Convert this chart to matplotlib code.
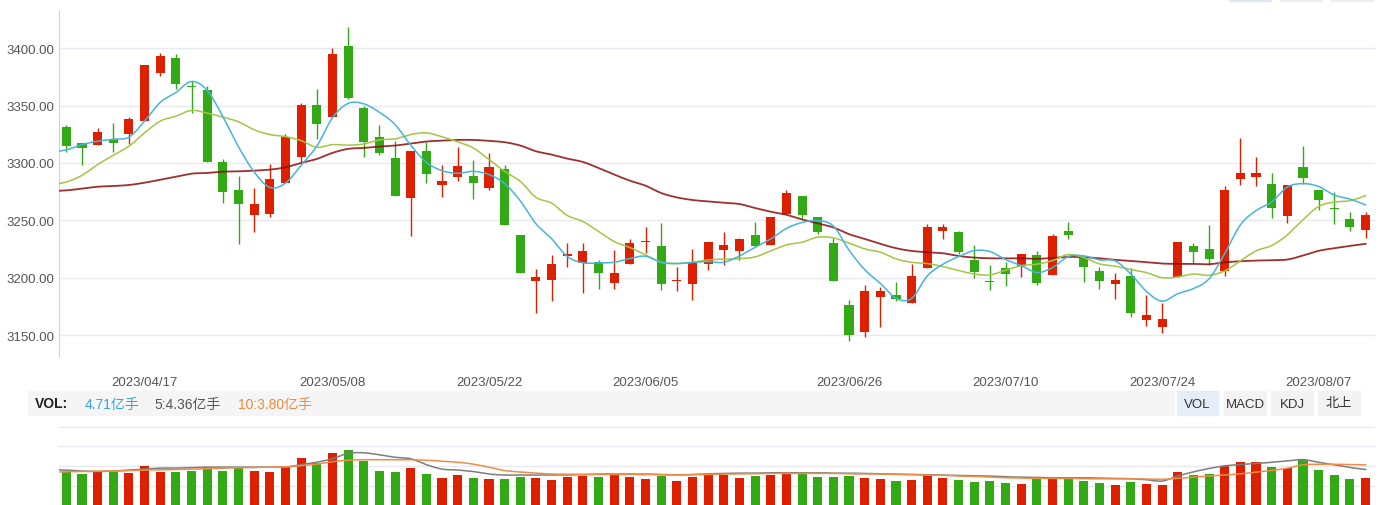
import numpy as np
import pandas as pd
from matplotlib import pyplot as plt
from matplotlib.patches import Rectangle

plt.rcParams['font.family'] = ['Liberation Sans', 'Noto Sans CJK SC', 'DejaVu Sans']

# trading days (SSE calendar, Labour day and Dragon boat holidays removed)
days = pd.bdate_range('2023-04-10', '2023-08-10')
holidays = pd.to_datetime(['2023-05-01', '2023-05-02', '2023-05-03', '2023-06-22', '2023-06-23'])
dates = [d.strftime('%Y/%m/%d') for d in days if d not in holidays]
tick_dates = ['2023/04/17', '2023/05/08', '2023/05/22', '2023/06/05',
              '2023/06/26', '2023/07/10', '2023/07/24', '2023/08/07']

# daily OHLC
opens = [3331.2, 3317.2, 3315.5, 3320.7, 3325.4, 3336.7, 3378.7, 3391.5, 3366.8, 3363.6,
         3300.6, 3276.1, 3254.5, 3255.4, 3282.5, 3305.3, 3350.4, 3340.2, 3402.0, 3347.8,
         3323.0, 3304.1, 3269.4, 3310.2, 3280.8, 3287.8, 3288.4, 3278.2, 3294.5, 3237.6,
         3196.8, 3197.7, 3218.7, 3213.1, 3214.0, 3195.1, 3211.7, 3230.9, 3228.0, 3197.4,
         3194.2, 3211.7, 3224.5, 3223.1, 3237.6, 3228.9, 3255.4, 3270.9, 3252.5, 3229.8,
         3176.4, 3152.2, 3182.8, 3185.2, 3177.6, 3208.2, 3240.6, 3239.4, 3215.8, 3197.4,
         3208.8, 3209.9, 3220.1, 3202.1, 3240.3, 3218.4, 3206.2, 3194.2, 3201.8, 3162.7,
         3156.6, 3200.3, 3228.0, 3225.4, 3205.6, 3286.0, 3287.8, 3281.4, 3253.7, 3296.2,
         3276.1, 3260.4, 3250.8, 3241.4]
closes = [3314.6, 3312.8, 3326.8, 3317.5, 3338.2, 3385.4, 3393.3, 3369.1, 3366.3, 3300.9,
          3274.7, 3264.2, 3263.9, 3285.7, 3323.0, 3350.4, 3334.1, 3395.0, 3356.9, 3318.4,
          3308.8, 3271.2, 3310.2, 3290.4, 3284.0, 3297.1, 3282.5, 3296.2, 3245.8, 3203.8,
          3200.9, 3212.3, 3220.7, 3223.6, 3203.8, 3204.4, 3229.8, 3232.4, 3194.2, 3197.8,
          3213.1, 3231.5, 3228.9, 3233.3, 3228.0, 3252.5, 3273.5, 3254.5, 3239.7, 3196.8,
          3149.6, 3188.7, 3188.7, 3181.1, 3201.8, 3243.8, 3244.6, 3222.2, 3204.7, 3196.0,
          3202.9, 3221.0, 3195.1, 3235.9, 3237.1, 3209.1, 3196.8, 3198.3, 3168.8, 3167.7,
          3164.2, 3231.5, 3222.2, 3216.1, 3276.1, 3291.0, 3291.0, 3260.7, 3280.5, 3286.9,
          3267.7, 3259.8, 3244.0, 3254.3]
highs = [3333.0, 3317.3, 3330.3, 3334.7, 3339.7, 3385.4, 3395.9, 3395.0, 3371.1, 3366.8,
         3303.2, 3288.4, 3277.9, 3298.9, 3325.1, 3352.2, 3364.4, 3400.3, 3418.7, 3349.6,
         3333.0, 3319.0, 3310.2, 3318.4, 3298.0, 3313.7, 3302.3, 3308.5, 3298.0, 3237.6,
         3207.3, 3220.1, 3230.6, 3230.6, 3215.5, 3224.5, 3233.3, 3243.8, 3247.3, 3209.7,
         3225.4, 3231.5, 3239.4, 3235.0, 3248.1, 3252.5, 3276.1, 3270.9, 3252.5, 3235.0,
         3180.8, 3193.9, 3192.2, 3196.5, 3212.3, 3246.4, 3246.4, 3241.1, 3228.9, 3211.4,
         3214.0, 3221.0, 3223.6, 3238.5, 3248.1, 3218.4, 3209.7, 3204.4, 3208.8, 3185.2,
         3178.2, 3231.5, 3229.8, 3245.5, 3279.6, 3321.6, 3305.0, 3291.0, 3280.5, 3314.6,
         3276.1, 3274.4, 3256.9, 3256.9]
lows = [3309.3, 3298.0, 3315.5, 3309.3, 3316.6, 3336.7, 3376.1, 3364.7, 3343.7, 3300.9,
        3265.0, 3229.2, 3239.7, 3252.8, 3282.5, 3301.2, 3321.0, 3340.2, 3355.7, 3305.3,
        3307.0, 3271.2, 3236.2, 3282.5, 3270.3, 3284.3, 3268.5, 3276.4, 3245.8, 3203.8,
        3168.8, 3179.3, 3209.1, 3186.3, 3189.8, 3189.8, 3211.7, 3221.3, 3188.9, 3188.1,
        3180.2, 3206.4, 3211.1, 3215.2, 3226.3, 3228.9, 3255.4, 3251.9, 3237.9, 3196.8,
        3144.4, 3147.9, 3156.6, 3179.3, 3177.6, 3208.2, 3233.3, 3220.4, 3199.4, 3188.9,
        3192.5, 3200.3, 3193.3, 3202.1, 3233.3, 3196.0, 3189.8, 3181.1, 3165.3, 3157.5,
        3151.4, 3200.3, 3212.6, 3210.8, 3201.2, 3280.8, 3279.9, 3251.9, 3247.5, 3281.7,
        3258.9, 3246.7, 3240.6, 3234.4]

# moving average lines, first value is the day before 2023/04/10
ma5 = [3309.3,
       3311.4, 3316.0, 3319.0, 3320.7, 3322.5, 3336.5, 3352.8, 3361.5, 3371.1, 3363.3,
       3340.4, 3314.1, 3292.1, 3278.7, 3282.5, 3298.0, 3314.6, 3339.4, 3351.9, 3351.6,
       3344.2, 3333.5, 3315.5, 3300.5, 3293.3, 3291.0, 3292.7, 3289.9, 3282.0, 3267.0,
       3247.0, 3234.0, 3218.5, 3213.0, 3212.9, 3213.4, 3216.7, 3218.7, 3213.4, 3212.3,
       3213.4, 3214.0, 3213.4, 3218.9, 3226.5, 3233.8, 3242.9, 3248.1, 3249.7, 3245.0,
       3224.0, 3207.0, 3195.0, 3182.0, 3181.9, 3201.5, 3211.7, 3218.4, 3223.6, 3222.8,
       3215.8, 3210.5, 3204.5, 3208.8, 3218.4, 3219.0, 3215.5, 3214.6, 3203.2, 3188.0,
       3179.5, 3186.0, 3190.5, 3199.0, 3221.0, 3246.0, 3258.5, 3266.0, 3279.0, 3282.0,
       3279.5, 3272.0, 3268.5, 3263.5]
ma10 = [3281.1,
        3283.4, 3289.2, 3298.6, 3306.7, 3314.6, 3326.3, 3336.5, 3340.8, 3345.8, 3343.4,
        3340.0, 3335.9, 3328.9, 3324.8, 3323.0, 3319.5, 3313.7, 3316.0, 3315.5, 3316.6,
        3320.1, 3321.0, 3324.8, 3326.3, 3322.8, 3318.4, 3313.1, 3302.9, 3292.7, 3284.0,
        3270.0, 3265.0, 3254.2, 3249.0, 3240.3, 3231.5, 3226.3, 3219.9, 3213.4, 3212.3,
        3213.4, 3215.5, 3216.1, 3216.6, 3218.1, 3223.4, 3228.6, 3230.9, 3235.3, 3234.7,
        3230.1, 3225.1, 3222.2, 3216.4, 3213.4, 3212.3, 3209.7, 3206.2, 3203.2, 3202.4,
        3206.5, 3210.5, 3211.7, 3214.9, 3220.1, 3217.5, 3212.0, 3210.0, 3207.1, 3204.4,
        3200.0, 3200.6, 3203.2, 3202.1, 3205.9, 3214.6, 3223.4, 3228.0, 3237.3, 3250.5,
        3262.1, 3265.9, 3267.1, 3271.5]
ma30 = [3275.3,
        3276.1, 3277.6, 3279.3, 3279.9, 3280.8, 3282.8, 3285.4, 3288.1, 3290.7, 3291.3,
        3292.4, 3292.7, 3293.3, 3294.2, 3296.2, 3300.0, 3303.5, 3308.8, 3312.3, 3313.1,
        3314.3, 3315.2, 3316.9, 3318.7, 3319.5, 3320.1, 3320.1, 3319.3, 3318.1, 3315.2,
        3310.2, 3307.3, 3303.8, 3300.9, 3295.6, 3289.8, 3284.6, 3280.2, 3273.8, 3270.0,
        3267.7, 3266.5, 3265.3, 3264.2, 3260.7, 3257.5, 3254.8, 3250.8, 3247.3, 3243.8,
        3237.9, 3233.8, 3229.5, 3225.7, 3223.3, 3222.2, 3221.3, 3218.9, 3217.5, 3216.9,
        3216.9, 3216.9, 3216.4, 3217.2, 3218.1, 3217.8, 3216.9, 3215.5, 3214.6, 3213.4,
        3212.3, 3212.0, 3212.0, 3211.7, 3213.4, 3214.3, 3214.9, 3215.2, 3215.8, 3219.3,
        3223.4, 3225.7, 3227.7, 3229.5]

# volume in 亿手
volume = [5.39, 5.16, 5.39, 5.39, 5.26, 5.99, 5.39, 5.39, 5.49, 5.79,
          5.49, 5.79, 5.49, 5.39, 5.96, 6.80, 6.33, 7.30, 7.67, 6.50,
          5.49, 5.39, 5.79, 5.19, 4.79, 5.09, 4.79, 4.69, 4.69, 4.89,
          4.79, 4.59, 4.89, 4.99, 4.89, 5.09, 4.89, 4.69, 4.99, 4.48,
          4.89, 5.06, 5.06, 4.75, 4.95, 5.06, 5.16, 5.16, 4.89, 4.89,
          4.95, 4.75, 4.65, 4.45, 4.55, 5.06, 4.75, 4.55, 4.35, 4.45,
          4.25, 4.15, 4.65, 4.65, 4.65, 4.45, 4.25, 4.05, 4.35, 4.15,
          4.05, 5.36, 5.06, 5.16, 6.06, 6.46, 6.46, 5.96, 5.76, 6.66,
          5.56, 5.06, 4.65, 4.75]
vol_ma5 = [5.66,
           5.6, 5.5, 5.45, 5.5, 5.6, 5.7, 5.8, 5.8, 5.85, 5.9,
           5.9, 5.9, 5.9, 5.9, 5.9, 6.15, 6.4, 6.75, 7.3, 7.35,
           7.15, 6.9, 6.75, 6.15, 5.7, 5.6, 5.45, 5.2, 5.1, 5.1,
           5.1, 5.1, 5.1, 5.15, 5.2, 5.2, 5.2, 5.2, 5.15, 5.12,
           5.15, 5.22, 5.26, 5.29, 5.29, 5.33, 5.33, 5.33, 5.33, 5.29,
           5.29, 5.26, 5.22, 5.19, 5.16, 5.12, 5.09, 5.06, 5.02, 4.99,
           4.92, 4.89, 4.86, 4.82, 4.82, 4.82, 4.79, 4.76, 4.72, 4.62,
           4.49, 4.99, 5.42, 5.76, 6.03, 6.16, 6.26, 6.39, 6.53, 6.66,
           6.39, 6.13, 5.86, 5.66]
vol_ma10 = [5.4,
            5.43, 5.45, 5.5, 5.5, 5.55, 5.6, 5.62, 5.66, 5.7, 5.73,
            5.8, 5.83, 5.86, 5.89, 5.92, 6.05, 6.2, 6.45, 6.6, 6.65,
            6.65, 6.65, 6.65, 6.6, 6.5, 6.4, 6.2, 5.9, 5.55, 5.4,
            5.3, 5.2, 5.19, 5.16, 5.16, 5.16, 5.16, 5.16, 5.12, 5.12,
            5.12, 5.16, 5.19, 5.22, 5.22, 5.26, 5.26, 5.26, 5.26, 5.26,
            5.22, 5.22, 5.19, 5.16, 5.12, 5.09, 5.06, 4.99, 4.96, 4.89,
            4.82, 4.79, 4.76, 4.76, 4.76, 4.72, 4.72, 4.72, 4.72, 4.69,
            4.66, 4.76, 4.89, 4.99, 5.09, 5.22, 5.39, 5.56, 5.79, 6.13,
            6.19, 6.19, 6.16, 6.13]

UP = '#dd2100'
DOWN = '#33aa15'
GRID = '#e7eaf0'


def smooth(x, y, steps=8):
    # catmull-rom curve through the points, like the smooth lines of the web chart
    x = np.asarray(x, float)
    y = np.asarray(y, float)
    px = np.r_[2 * x[0] - x[1], x, 2 * x[-1] - x[-2]]
    py = np.r_[2 * y[0] - y[1], y, 2 * y[-1] - y[-2]]
    t = np.linspace(0, 1, steps, endpoint=False)
    sx, sy = [], []
    for i in range(1, len(px) - 2):
        for arr, out in ((px, sx), (py, sy)):
            p0, p1, p2, p3 = arr[i - 1:i + 3]
            out.append(0.5 * (2 * p1 + (p2 - p0) * t + (2 * p0 - 5 * p1 + 4 * p2 - p3) * t ** 2
                              + (3 * p1 - p0 - 3 * p2 + p3) * t ** 3))
    sx.append([x[-1]])
    sy.append([y[-1]])
    return np.concatenate(sx), np.concatenate(sy)


W, H = 1391, 506
fig = plt.figure(figsize=(W / 100, H / 100), dpi=100)

o = np.array(opens)
c = np.array(closes)
hi = np.array(highs)
lo = np.array(lows)
x = np.arange(len(dates))
up = c >= o
cols = np.where(up, UP, DOWN)

# ---- price panel
ax = fig.add_axes([58.5 / W, 1 - 357 / H, (1375 - 58.5) / W, 345 / H])
ax.vlines(x, lo, hi, colors=cols, linewidth=1.0, zorder=2)
body = np.maximum(np.abs(c - o), 0.9)
ax.bar(x, body, bottom=np.minimum(o, c), width=0.58, color=cols, zorder=3)

xl = np.arange(-1, len(dates))
for vals, col, lw, a in [(ma30, '#8e0b0b', 1.3, 0.85), (ma10, '#a2c644', 1.1, 1.0), (ma5, '#45b5d8', 1.1, 1.0)]:
    sx, sy = smooth(xl, vals)
    ax.plot(sx, sy, color=col, linewidth=lw, alpha=a, zorder=4)

ax.set_xlim(-0.5, 83.6)
ax.set_ylim(3131.7, 3432.5)
ax.set_yticks(np.arange(3150, 3401, 50))
ax.set_yticklabels(['%.2f' % v for v in np.arange(3150, 3401, 50)])
ax.set_xticks([dates.index(d) for d in tick_dates])
ax.set_xticklabels(tick_dates)
ax.tick_params(axis='both', length=0, labelsize=9.5, labelcolor='#555555')
ax.tick_params(axis='y', pad=3)
ax.tick_params(axis='x', pad=14.5)
ax.grid(axis='y', color=GRID, linewidth=1)
ax.set_axisbelow(True)
for s in ['top', 'right', 'bottom']:
    ax.spines[s].set_visible(False)
ax.spines['left'].set_color('#c6d4ec')

# ---- legend strip
fig.patches.append(Rectangle((28 / W, 1 - 416 / H), (1174 - 28) / W, 24 / H,
                             transform=fig.transFigure, color='#f5f5f5', zorder=0))
ty = 1 - 404.5 / H
fig.text(35 / W, ty, 'VOL:', fontsize=10, fontweight='bold', color='#222222', va='center')
fig.text(85 / W, ty, '4.71亿手', fontsize=10, color='#3aa2d8', va='center')
fig.text(154 / W, ty, '5:4.36亿手', fontsize=10, color='#555555', va='center')
fig.text(238 / W, ty, '10:3.80亿手', fontsize=10, color='#f08a3c', va='center')
for x0, x1, lab, bg in [(1177, 1218, 'VOL', '#e5edf8'), (1224, 1266, 'MACD', '#f3f3f3'),
                        (1271, 1313, 'KDJ', '#f3f3f3'), (1318, 1360, '北上', '#f3f3f3')]:
    fig.patches.append(Rectangle((x0 / W, 1 - 416 / H), (x1 - x0) / W, 24 / H,
                                 transform=fig.transFigure, color=bg, zorder=0))
    fig.text((x0 + x1) / 2 / W, ty, lab, fontsize=9.5, color='#333333', ha='center', va='center')

# bits of the period buttons cut off at the top edge
for x0, x1, bg in [(1229, 1271, '#dce7f5'), (1280, 1322, '#eeeeee'), (1331, 1373, '#eeeeee')]:
    fig.patches.append(Rectangle((x0 / W, 1 - 1.5 / H), (x1 - x0) / W, 1.5 / H,
                                 transform=fig.transFigure, color=bg, zorder=0))

# ---- volume panel (runs past the bottom edge, like the cropped original)
axv = fig.add_axes([58.5 / W, (H - 526.3) / H, (1375 - 58.5) / W, 99.6 / H])
axv.bar(x, volume, width=0.58, color=cols, zorder=3)
for vals, col in [(vol_ma5, '#7d7d7d'), (vol_ma10, '#f08c45')]:
    sx, sy = smooth(xl, vals)
    axv.plot(sx, sy, color=col, linewidth=1.1, zorder=4)
axv.set_xlim(-0.5, 83.6)
axv.set_ylim(0, 10.1)
axv.set_yticks([2, 4, 6, 8, 10])
axv.set_xticks([])
axv.tick_params(axis='y', length=0, labelleft=False)
axv.grid(axis='y', color=GRID, linewidth=1)
axv.set_axisbelow(True)
for s in axv.spines.values():
    s.set_visible(False)

fig.savefig('out.png', dpi=100)
